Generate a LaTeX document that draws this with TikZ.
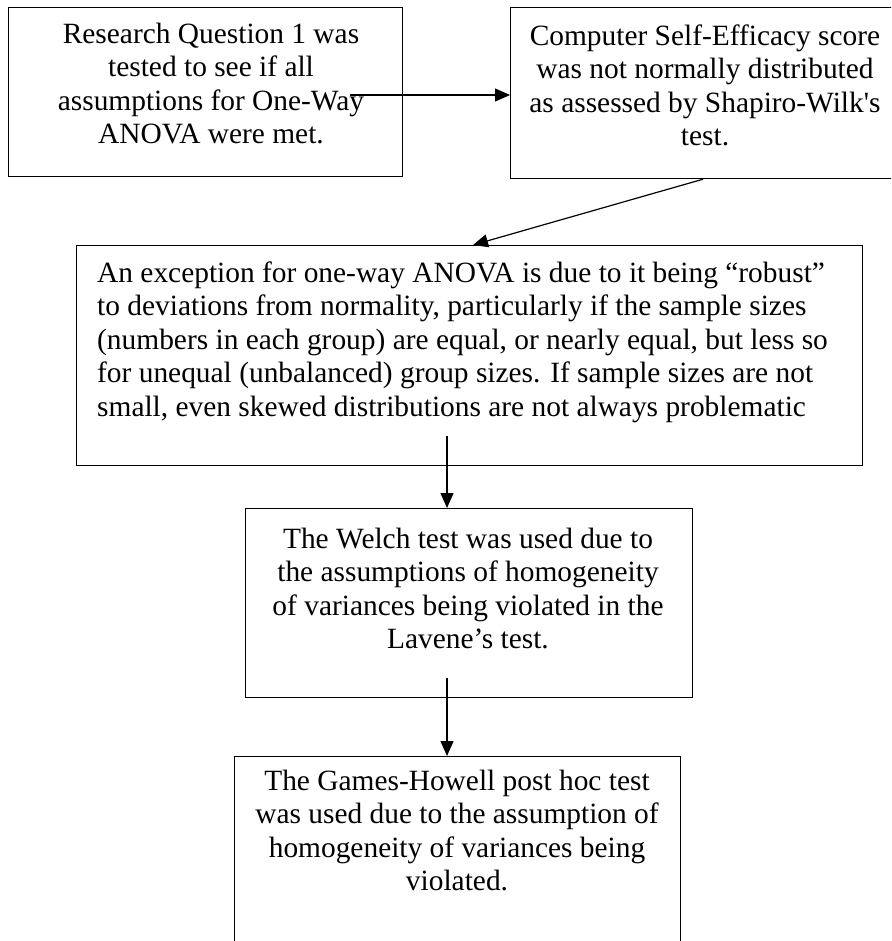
\documentclass[tikz,border=0pt]{standalone}
\usepackage{fontspec}
\setmainfont{Liberation Serif}[Ligatures=TeXOff]
\usetikzlibrary{arrows.meta}
\begin{document}
\begin{tikzpicture}[x=1pt,y=-1pt,
  box/.style={draw, line width=1.2pt, rectangle, inner sep=0pt, anchor=north west},
  txt/.style={font=\fontsize{29.4}{33.5}\selectfont, inner sep=0pt, anchor=north},
  arr/.style={line width=1.2pt, -{Triangle[length=15pt,width=13pt]}}]
\useasboundingbox (0,0) rectangle (891,941);
\clip (0,0) rectangle (891,941);
% boxes
\node[box, minimum width=394pt, minimum height=169pt] (b1) at (8,7) {};
\node[box, minimum width=390pt, minimum height=171pt] (b2) at (510,7) {};
\node[box, minimum width=786pt, minimum height=220pt] (b3) at (76,245) {};
\node[box, minimum width=447pt, minimum height=189pt] (b4) at (245,508) {};
\node[box, minimum width=446pt, minimum height=210pt] (b5) at (234,756) {};
% texts
\node[txt, align=center] (t1) at (211,19.5) {\strut Research Question 1 was\\ tested to see if all\\ assumptions for One-Way\\ ANOVA were met.};
\node[txt, align=center] (t2) at (705,21.5) {\strut Computer Self-Efficacy score\\ was not normally distributed\\ as assessed by Shapiro-Wilk's\\ test.};
\node[txt, align=left, anchor=north west] (t3) at (97,258.5) {\strut An exception for one-way ANOVA is due to it being “robust”\\ to deviations from normality, particularly if the sample sizes\\ (numbers in each group) are equal, or nearly equal, but less so\\ for unequal (unbalanced) group sizes. If sample sizes are not\\ small, even skewed distributions are not always problematic};
\node[txt, align=center] (t4) at (468,524.5) {\strut The Welch test was used due to\\ the assumptions of homogeneity\\ of variances being violated in the\\ Lavene’s test.};
\node[txt, align=center] (t5) at (457,766.5) {\strut The Games-Howell post hoc test\\ was used due to the assumption of\\ homogeneity of variances being\\ violated.};
% connectors
\coordinate (a1s) at (350,95);
\coordinate (a3s) at (447,436);
\coordinate (a4s) at (447,678);
\draw[arr] (a1s) -- (a1s -| b2.west);
\draw[arr] ([xshift=193pt]b2.south west) -- ([xshift=397pt]b3.north west);
\draw[arr] (a3s) -- (a3s |- b4.north);
\draw[arr] (a4s) -- (a4s |- b5.north);
\end{tikzpicture}
\end{document}
